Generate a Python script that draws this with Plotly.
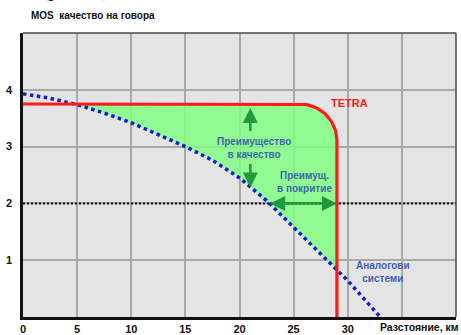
import numpy as np
import plotly.graph_objects as go

# Axis ticks and labels
distance_ticks = [0, 5, 10, 15, 20, 25, 30, 35, 40]
distance_labels = ["0", "5", "10", "15", "20", "25", "30", "", ""]
mos_ticks = [0, 1, 2, 3, 4, 5]
mos_labels = ["", "1", "2", "3", "4", ""]

# TETRA: constant voice quality up to the edge of coverage
tetra_mos = 3.75
tetra_range_km = 29.0

# Analogue systems: quality falls off with distance
analog_km = [0, 2.5, 5, 7.5, 10, 12.5, 15, 17.5, 20, 22.5, 25, 27.5, 30, 33]
analog_mos = [3.93, 3.85, 3.74, 3.59, 3.42, 3.21, 3.00, 2.76, 2.45, 2.05, 1.58, 1.12, 0.64, 0.0]

# Acceptable quality threshold
threshold_mos = 2.0

W, H = 461, 335
M = dict(l=23, r=5, t=33, b=18)
X_RANGE = [0, 40]
Y_RANGE = [0, 5]
px_x = (W - M["l"] - M["r"]) / (X_RANGE[1] - X_RANGE[0])
px_y = (H - M["t"] - M["b"]) / (Y_RANGE[1] - Y_RANGE[0])

# TETRA curve with a rounded corner (radius given in pixels)
corner_px = 37
rx, ry = corner_px / px_x, corner_px / px_y
cx, cy = tetra_range_km - rx, tetra_mos - ry
theta = np.linspace(np.pi / 2, 0, 30)
tetra_x = np.concatenate([[0.0], cx + rx * np.cos(theta), [tetra_range_km]])
tetra_y = np.concatenate([[tetra_mos], cy + ry * np.sin(theta), [0.0]])

# Advantage region between the two curves
ak = np.array(analog_km)
am = np.array(analog_mos)
x_cross = np.interp(tetra_mos, am[::-1], ak[::-1])
y_edge = np.interp(tetra_range_km, ak, am)
top_mask = tetra_x >= x_cross
top_x = np.concatenate([[x_cross], tetra_x[top_mask & (tetra_y > y_edge)], [tetra_range_km]])
top_y = np.concatenate([[tetra_mos], tetra_y[top_mask & (tetra_y > y_edge)], [y_edge]])
low_mask = (ak > x_cross) & (ak < tetra_range_km)
low_x = ak[low_mask][::-1]
low_y = am[low_mask][::-1]
fill_x = np.concatenate([top_x, low_x, [x_cross]])
fill_y = np.concatenate([top_y, low_y, [tetra_mos]])

fig = go.Figure()

fig.add_trace(go.Scatter(
    x=fill_x, y=fill_y, mode="lines", fill="toself",
    fillcolor="rgba(128,255,128,0.82)", line=dict(width=0),
    hoverinfo="skip", showlegend=False,
))

fig.add_trace(go.Scatter(
    x=X_RANGE, y=[threshold_mos, threshold_mos], mode="lines",
    line=dict(color="#111111", width=2, dash="2px,2px"),
    showlegend=False,
))

fig.add_trace(go.Scatter(
    x=analog_km, y=analog_mos, mode="lines",
    line=dict(color="#1020C8", width=3.5, dash="3.5px,3.5px"),
    showlegend=False,
))

fig.add_trace(go.Scatter(
    x=tetra_x, y=tetra_y, mode="lines",
    line=dict(color="#FF1A1A", width=3.2),
    showlegend=False,
))

green = "#1E9A3C"
text_blue = "#3A68A8"
font_family = "Liberation Sans, Arial, sans-serif"
plot_w = W - M["l"] - M["r"]
plot_h = H - M["t"] - M["b"]

annotations = [
    # quality advantage arrows
    dict(x=21.0, y=3.68, ax=21.0, ay=3.25, xref="x", yref="y", axref="x", ayref="y",
         showarrow=True, arrowhead=2, arrowsize=1.15, arrowwidth=2.6, arrowcolor=green, text=""),
    dict(x=21.0, y=2.28, ax=21.0, ay=2.72, xref="x", yref="y", axref="x", ayref="y",
         showarrow=True, arrowhead=2, arrowsize=1.15, arrowwidth=2.6, arrowcolor=green, text=""),
    # coverage advantage arrow
    dict(x=tetra_range_km, y=threshold_mos, ax=22.7, ay=threshold_mos,
         xref="x", yref="y", axref="x", ayref="y",
         showarrow=True, arrowhead=2, startarrowhead=2, arrowside="end+start",
         arrowsize=1.15, startarrowsize=1.15, arrowwidth=2.6, arrowcolor=green, text=""),
    dict(x=21.3, y=2.98, xref="x", yref="y", showarrow=False,
         text="<b>Преимущество<br>в качество</b>",
         font=dict(family=font_family, size=10, color=text_blue)),
    dict(x=26.0, y=2.37, xref="x", yref="y", showarrow=False,
         text="<b>Преимущ.<br>в покритие</b>",
         font=dict(family=font_family, size=10, color=text_blue)),
    dict(x=33.3, y=0.79, xref="x", yref="y", showarrow=False,
         text="<b>Аналогови<br>системи</b>",
         font=dict(family=font_family, size=10, color="#3C5FB0")),
    dict(x=30.2, y=3.76, xref="x", yref="y", showarrow=False,
         text="<b>TETRA</b>",
         font=dict(family=font_family, size=11, color="#FF1A1A")),
    # axis titles
    dict(x=(29 - M["l"]) / plot_w, y=(H - M["b"] - 15) / plot_h,
         xref="paper", yref="paper", xanchor="left", yanchor="middle", showarrow=False,
         text="<b>MOS&nbsp; качество на говора</b>",
         font=dict(family=font_family, size=10, color="#111111")),
    dict(x=(461 - M["l"]) / plot_w, y=(H - M["b"] - 327) / plot_h,
         xref="paper", yref="paper", xanchor="right", yanchor="middle", showarrow=False,
         text="<b>Разстояние, км</b>",
         font=dict(family=font_family, size=10.5, color="#111111")),
    # figure caption running off the top edge
    dict(x=(75 - M["l"]) / plot_w, y=(H - M["b"] + 11) / plot_h,
         xref="paper", yref="paper", xanchor="center", yanchor="middle", showarrow=False,
         text="(рис. 1)",
         font=dict(family="Liberation Serif, serif", size=22, color="#111111")),
]

shapes = [
    dict(type="line", xref="paper", yref="paper", x0=0, x1=1, y0=1, y1=1,
         line=dict(color="#4A4A4A", width=1.5)),
    dict(type="line", xref="paper", yref="paper", x0=1, x1=1, y0=0, y1=1,
         line=dict(color="#4A4A4A", width=1.5)),
]

fig.update_layout(
    width=W, height=H, margin=M,
    paper_bgcolor="white", plot_bgcolor="#E4E4E4",
    showlegend=False,
    annotations=annotations, shapes=shapes,
    xaxis=dict(range=X_RANGE, tickvals=distance_ticks, ticktext=distance_labels,
               showgrid=True, gridcolor="#A9A9A9", gridwidth=1.5,
               showline=True, linecolor="#111111", linewidth=2.5,
               zeroline=False, ticks="",
               fixedrange=True, automargin=False,
               tickfont=dict(family=font_family, size=11, color="#111111", weight="bold")),
    yaxis=dict(range=Y_RANGE, tickvals=mos_ticks, ticktext=mos_labels,
               showgrid=True, gridcolor="#A9A9A9", gridwidth=1.5,
               showline=True, linecolor="#111111", linewidth=2.5,
               zeroline=False, ticks="outside", ticklen=6, tickcolor="rgba(0,0,0,0)",
               fixedrange=True, automargin=False,
               tickfont=dict(family=font_family, size=11, color="#111111", weight="bold")),
)

fig.write_html("out.html")
